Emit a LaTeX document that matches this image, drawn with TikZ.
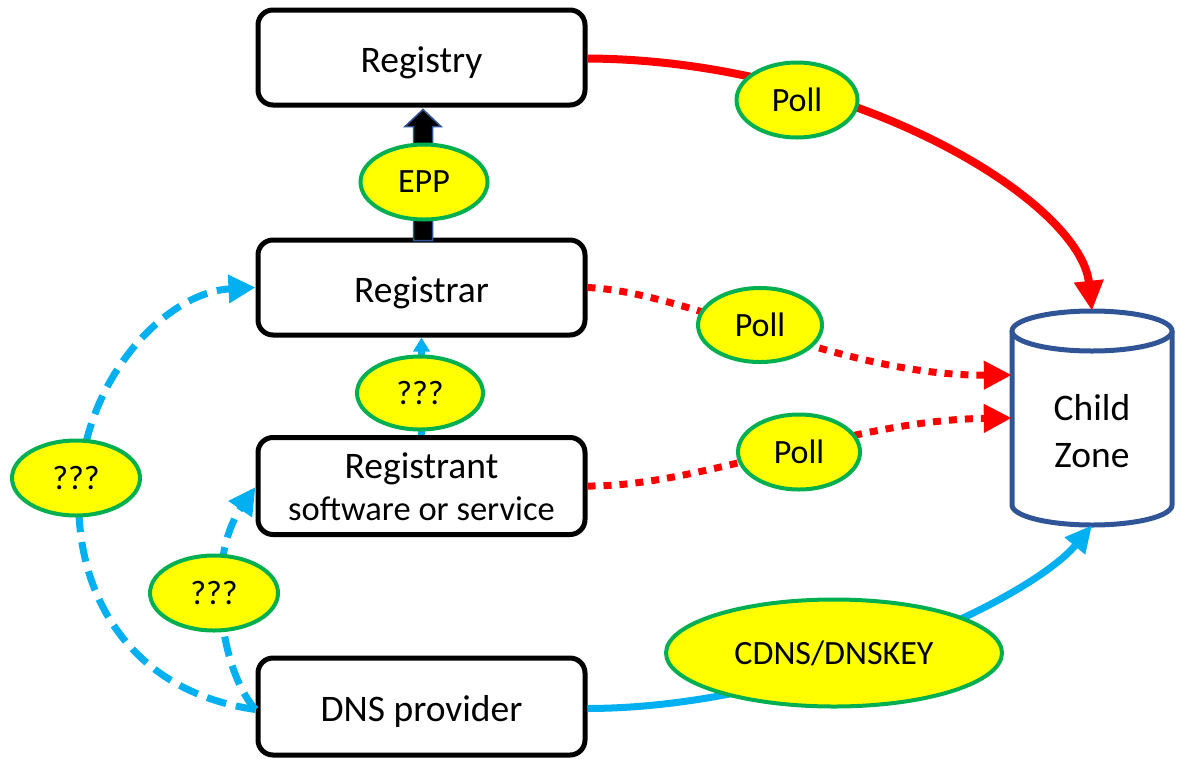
\documentclass[tikz,border=0pt]{standalone}
\usepackage{fontspec}
\setmainfont{Carlito}
\usetikzlibrary{arrows.meta,calc,shapes.geometric}

\definecolor{zred}{HTML}{FF0000}
\definecolor{zblue}{HTML}{00B0F0}
\definecolor{zgreen}{HTML}{00B050}
\definecolor{zyellow}{HTML}{FFFF00}
\definecolor{zdark}{HTML}{2F5597}

\tikzset{
  box/.style={draw=black, line width=5pt, rounded corners=15pt, fill=white,
    minimum width=327pt, align=center, text height=34pt, text depth=4pt,
    font=\fontsize{37.5}{42}\selectfont},
  tag/.style={ellipse, draw=zgreen, fill=zyellow, line width=4pt, inner sep=0pt,
    font=\fontsize{34}{38}\selectfont},
  solidred/.style={draw=zred, line width=8pt, -{Triangle[length=30pt,width=28pt]}},
  dotred/.style={draw=zred, line width=7pt, dash pattern=on 8pt off 8pt,
    -{Triangle[length=28pt,width=27pt]}},
  dashblue/.style={draw=zblue, line width=7pt, dash pattern=on 20pt off 10pt,
    -{Triangle[length=27pt,width=27pt]}},
  solidblue/.style={draw=zblue, line width=7pt, -{Triangle[length=27pt,width=25pt]}},
  thinblue/.style={draw=zblue, line width=7pt, -{Triangle[length=14pt,width=16pt]}},
}

\begin{document}
\begin{tikzpicture}[x=1pt, y=-1pt]
  \useasboundingbox (0,0) rectangle (1182,758);

  % boxes
  \node[box, minimum height=95pt]  (registry)   at (421.5,57.5)  {Registry};
  \node[box, minimum height=95pt]  (registrar)  at (421.5,287.5) {Registrar};
  \node[box, minimum height=97pt, text height=72pt, text depth=4pt]
                                   (registrant) at (421.5,486)
    {Registrant\\{\fontsize{34.5}{42}\selectfont software or service}};
  \node[box, minimum height=97pt]  (dns)        at (421.5,706.5) {DNS provider};

  % child zone cylinder
  \node[minimum width=160pt, minimum height=214pt, inner sep=0pt] (zone) at (1092,418) {};
  \draw[zdark, line width=5pt, fill=white]
    (1012,331) -- (1012,505) arc[start angle=180, end angle=0, x radius=80, y radius=20]
    -- (1172,331);
  \draw[zdark, line width=5pt, fill=white] (1092,331) ellipse[x radius=80, y radius=20];
  \node[align=center, font=\fontsize{37.5}{47}\selectfont] (zonetext) at (1092,431) {Child\\Zone};

  % connectors
  \draw[solidred] (registry.east) ++(0,1)
    .. controls (850,60) and (1080,200) .. (zone.north);
  \draw[dotred] (registrar.east)
    .. controls (690,292) and (840,376) .. ($(zone.west)+(0,-43)$);
  \draw[dotred] (registrant.east)
    .. controls (700,487) and (850,420) .. ($(zone.west)+(0,0)$);
  \draw[solidblue] (dns.east) ++(0,2)
    .. controls (800,708) and (1030,600) .. (zone.south);
  \draw[thinblue] (registrant.north) -- (registrar.south);
  \draw[dashblue] ($(dns.west)+(0,3)$)
    .. controls (120,690) and (70,580) .. (80,478)
    .. controls (90,370) and (170,292) .. (registrar.west);
  \draw[dashblue] ($(dns.west)+(0,3)$)
    .. controls (220,670) and (205,560) .. ($(registrant.west)+(0,1)$);

  % EPP block arrow
  \coordinate (eppbase) at ($(registrar.north)+(1.5,0)$);
  \coordinate (epptip)  at ($(registry.south)+(1.5,2)$);
  \draw[zdark, line width=1.5pt, fill=black]
    ($(eppbase)+(-9.5,3)$) -- ($(epptip)+(-9.5,17)$) -- ($(epptip)+(-18,17)$)
    -- (epptip) -- ($(epptip)+(18,17)$) -- ($(epptip)+(9.5,17)$)
    -- ($(eppbase)+(9.5,3)$) -- cycle;

  % labels
  \node[tag, minimum width=121pt, minimum height=75pt] (lpolla) at (797,100) {Poll};
  \node[tag, minimum width=127pt, minimum height=75pt] (lepp)   at (424,182) {EPP};
  \node[tag, minimum width=124pt, minimum height=74pt] (lpollb) at (760,325) {Poll};
  \node[tag, minimum width=126pt, minimum height=73pt] (lqa)    at (420,393) {???};
  \node[tag, minimum width=122pt, minimum height=75pt] (lpollc) at (799,452) {Poll};
  \node[tag, minimum width=128pt, minimum height=75pt] (lqb)    at (76,478)  {???};
  \node[tag, minimum width=128pt, minimum height=75pt] (lqc)    at (214,593) {???};
  \node[tag, minimum width=336pt, minimum height=107pt] (lcdns) at (834,653) {CDNS/DNSKEY};
\end{tikzpicture}
\end{document}
